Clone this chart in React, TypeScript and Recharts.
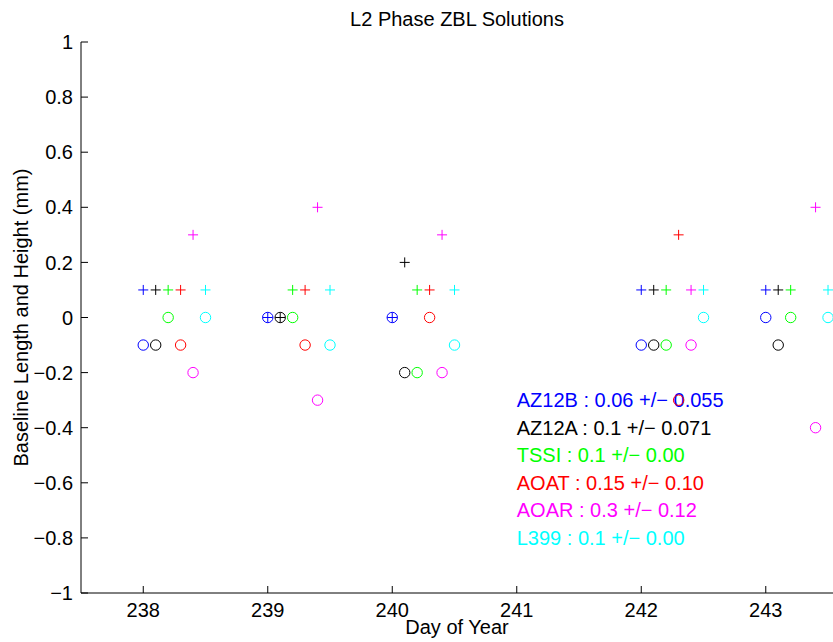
import { Scatter, ScatterChart, XAxis, YAxis } from 'recharts';

// Jornadas y estaciones (cada estación desplazada 0.1 día para que no se pisen)
const days = [238, 239, 240, 242, 243];
const stations = ['AZ12B', 'AZ12A', 'TSSI', 'AOAT', 'AOAR', 'L399'];
const dayShift = [0, 0.1, 0.2, 0.3, 0.4, 0.5];
const colors = ['#0000ff', '#000000', '#00ff00', '#ff0000', '#ff00ff', '#00ffff'];

// "+" = altura, "o" = longitud de línea base (mm), una fila por estación
const heightAZ12B = [0.1, 0, 0, 0.1, 0.1];
const heightAZ12A = [0.1, 0, 0.2, 0.1, 0.1];
const heightTSSI = [0.1, 0.1, 0.1, 0.1, 0.1];
const heightAOAT = [0.1, 0.1, 0.1, 0.3, null];
const heightAOAR = [0.3, 0.4, 0.3, 0.1, 0.4];
const heightL399 = [0.1, 0.1, 0.1, 0.1, 0.1];

const lengthAZ12B = [-0.1, 0, 0, -0.1, 0];
const lengthAZ12A = [-0.1, 0, -0.2, -0.1, -0.1];
const lengthTSSI = [0, 0, -0.2, -0.1, 0];
const lengthAOAT = [-0.1, -0.1, 0, -0.3, null];
const lengthAOAR = [-0.2, -0.3, -0.2, -0.1, -0.4];
const lengthL399 = [0, -0.1, -0.1, 0, 0];

const heights = [heightAZ12B, heightAZ12A, heightTSSI, heightAOAT, heightAOAR, heightL399];
const lengths = [lengthAZ12B, lengthAZ12A, lengthTSSI, lengthAOAT, lengthAOAR, lengthL399];

// Resumen (media +/- desviación) escrito dentro del gráfico
const summaryMean = ['0.06', '0.1', '0.1', '0.15', '0.3', '0.1'];
const summarySd = ['0.055', '0.071', '0.00', '0.10', '0.12', '0.00'];
const summaryX = 241;
const summaryY = [-0.3, -0.4, -0.5, -0.6, -0.7, -0.8];

const xTicks = [238, 239, 240, 241, 242, 243];
const yTicks = [-1, -0.8, -0.6, -0.4, -0.2, 0, 0.2, 0.4, 0.6, 0.8, 1];

const font = '"Liberation Sans", Arial, Helvetica, sans-serif';

function points(values: (number | null)[], i: number) {
  return values
    .map((v, d) => (v === null ? null : { x: days[d] + dayShift[i], y: v }))
    .filter(Boolean) as { x: number; y: number }[];
}

function fmtY(v: number) {
  const n = Number(v.toFixed(1));
  return n < 0 ? `\u2212${Math.abs(n)}` : String(n);
}

const plus = (color: string) => (p: any) => (
  <g stroke={color} strokeWidth={1}>
    <line x1={p.cx - 5} x2={p.cx + 5} y1={p.cy} y2={p.cy} />
    <line x1={p.cx} x2={p.cx} y1={p.cy - 5} y2={p.cy + 5} />
  </g>
);

const ring = (color: string) => (p: any) => (
  <circle cx={p.cx} cy={p.cy} r={5.2} fill="none" stroke={color} strokeWidth={1} />
);

const note = (p: any) => (
  <text x={p.cx} y={p.cy} dy="0.35em" fill={p.payload.color} fontSize={20} fontFamily={font}>
    {p.payload.label}
  </text>
);

const summary = stations.map((s, i) => ({
  x: summaryX,
  y: summaryY[i],
  color: colors[i],
  label: `${s} : ${summaryMean[i]} +/\u2212 ${summarySd[i]}`,
}));

export default function App() {
  const tick = { fill: '#000', fontSize: 20, fontFamily: font };
  return (
    <div style={{ position: 'absolute', left: 0, top: 0, width: 833, height: 642, background: '#fff' }}>
      <div
        style={{
          position: 'absolute', left: 81, top: 9, width: 752, textAlign: 'center',
          fontFamily: font, fontSize: 20, lineHeight: '20px', color: '#000',
        }}
      >
        L2 Phase ZBL Solutions
      </div>
      <ScatterChart width={833} height={642} margin={{ top: 42, right: 0, bottom: 0, left: 0 }}>
        <XAxis
          type="number" dataKey="x" domain={[237.5, 243.54]} ticks={xTicks} allowDataOverflow
          height={49} tickSize={-7} tickMargin={17} tick={tick}
          axisLine={{ stroke: '#000' }} tickLine={{ stroke: '#000' }}
          label={{ value: 'Day of Year', position: 'insideBottom', offset: 8, fill: '#000', fontSize: 20, fontFamily: font }}
        />
        <YAxis
          type="number" dataKey="y" domain={[-1, 1]} ticks={yTicks} allowDataOverflow
          width={81} tickSize={-7} tickMargin={15} tick={tick} tickFormatter={fmtY}
          axisLine={{ stroke: '#000' }} tickLine={{ stroke: '#000' }}
          label={{
            value: 'Baseline Length and Height (mm)', angle: -90, position: 'insideLeft', offset: 21,
            fill: '#000', fontSize: 20, fontFamily: font, style: { textAnchor: 'middle' },
          }}
        />
        <Scatter data={summary} shape={note} isAnimationActive={false} />
        {stations.map((s, i) => (
          <Scatter key={`o-${s}`} data={points(lengths[i], i)} shape={ring(colors[i])} isAnimationActive={false} />
        ))}
        {stations.map((s, i) => (
          <Scatter key={`p-${s}`} data={points(heights[i], i)} shape={plus(colors[i])} isAnimationActive={false} />
        ))}
      </ScatterChart>
    </div>
  );
}
